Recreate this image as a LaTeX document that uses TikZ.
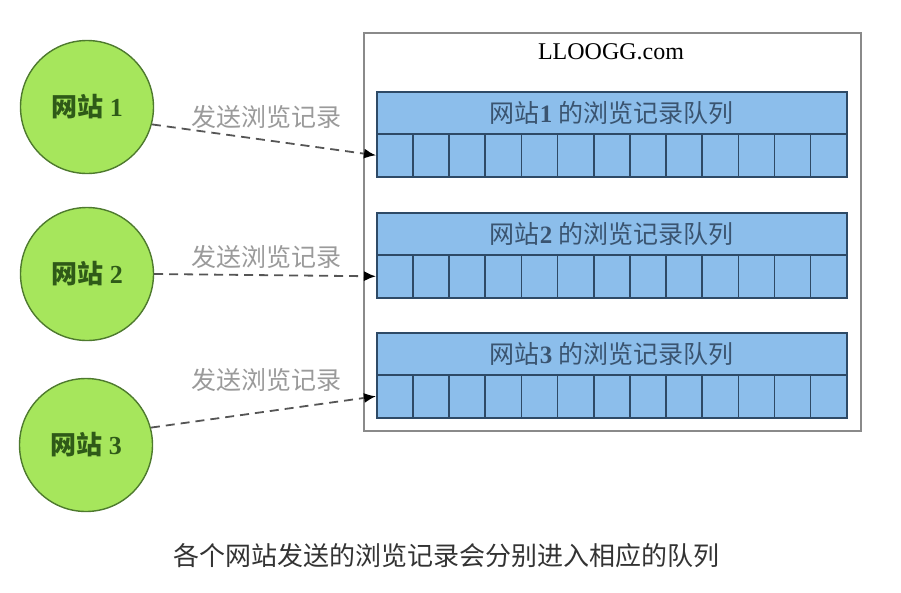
\documentclass[tikz,border=0pt]{standalone}
\usepackage{fontspec}
\setmainfont{Liberation Serif}
\newfontfamily\cjk{Noto Sans CJK SC}
\usetikzlibrary{arrows.meta,positioning}

\definecolor{sitefill}{HTML}{A6E65C}
\definecolor{sitedraw}{HTML}{4E7A2E}
\definecolor{sitetext}{HTML}{2F5A18}
\definecolor{qfill}{HTML}{8CBEEB}
\definecolor{qdraw}{HTML}{2E4A66}
\definecolor{qtext}{HTML}{3A5470}
\definecolor{boxgray}{HTML}{8A8A8A}
\definecolor{linegray}{HTML}{555555}
\definecolor{labelgray}{HTML}{9A9A9A}

\tikzset{
    site/.style={circle,draw=sitedraw,fill=sitefill,line width=1.4pt,
        minimum size=133pt,inner sep=0pt,text=sitetext,
        font=\fontsize{26}{28}\selectfont\bfseries},
    qhead/.style={draw=qdraw,fill=qfill,line width=1.6pt,
        minimum width=470pt,minimum height=42pt,inner sep=0pt,text=qtext,
        font=\fontsize{25}{27}\selectfont},
    qcell/.style={draw=qdraw,fill=qfill,line width=1.6pt,
        minimum width=470pt/13,minimum height=43pt,inner sep=0pt},
    send/.style={draw=linegray,line width=1.8pt,dash pattern=on 9pt off 6pt,
        -{Latex[length=12pt,width=10pt,color=black]}},
    sendlabel/.style={text=labelgray,font=\fontsize{25}{27}\selectfont\cjk},
}

\begin{document}
\begin{tikzpicture}[x=1pt,y=-1pt]
\useasboundingbox (0,0) rectangle (901,592);

% outer box
\node[draw=boxgray,line width=1.6pt,minimum width=497pt,minimum height=398pt,
    anchor=north west,inner sep=0pt] (server) at (363,32) {};
\node[font=\fontsize{24}{26}\selectfont] (servername) at (611,52) {LLOOGG.com};

% queues
\foreach \i/\y in {1/91,2/212,3/332}{
    \node[qhead,anchor=north west] (head\i) at (376,\y)
        {{\cjk 网站}\textbf{\i}~{\cjk 的浏览记录队列}};
    \foreach \j in {1,...,13}
        \node[qcell,anchor=north west] (cell\i-\j) at ({376+(\j-1)*470/13},\y+42) {};
}

% sites
\node[site] (site1) at (87,107) {{\cjk 网站}~1};
\node[site] (site2) at (87,274) {{\cjk 网站}~2};
\node[site] (site3) at (86,445) {{\cjk 网站}~3};

\draw[send] (site1.-15) -- (cell1-1.west);
\draw[send] (site2.east) -- (cell2-1.west);
\draw[send] (site3.15) -- (cell3-1.west);

\node[sendlabel] (lab1) at (266,117) {发送浏览记录};
\node[sendlabel] (lab2) at (266,257) {发送浏览记录};
\node[sendlabel] (lab3) at (266,380) {发送浏览记录};

% caption
\node[font=\fontsize{26}{28}\selectfont\cjk,text=black!80] (caption) at (446,556)
    {各个网站发送的浏览记录会分别进入相应的队列};
\end{tikzpicture}
\end{document}
